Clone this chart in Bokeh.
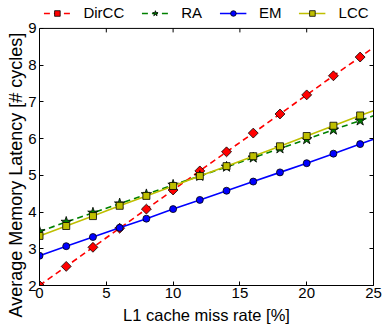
import numpy as np
from bokeh.plotting import figure
from bokeh.models import (LinearAxis, FixedTicker, Range1d, Legend, LegendItem,
                          CustomJSTickFormatter, Title, Span)
from bokeh.embed import file_html
from bokeh.resources import INLINE

# ---- data ----
miss_rate = [0, 2, 4, 6, 8, 10, 12, 14, 16, 18, 20, 22, 24]
line_rate = [0, 2, 4, 6, 8, 10, 12, 14, 16, 18, 20, 22, 24, 25]
dircc = [2.00, 2.52, 3.04, 3.56, 4.08, 4.60, 5.12, 5.64, 6.15, 6.67, 7.19, 7.71, 8.22, 8.48]
ra = [3.47, 3.73, 3.98, 4.23, 4.48, 4.74, 4.98, 5.23, 5.48, 5.73, 5.98, 6.24, 6.49, 6.62]
em = [2.81, 3.07, 3.32, 3.57, 3.82, 4.08, 4.33, 4.58, 4.83, 5.08, 5.33, 5.59, 5.85, 5.98]
lcc = [3.35, 3.62, 3.89, 4.17, 4.44, 4.71, 4.98, 5.25, 5.52, 5.79, 6.07, 6.35, 6.63, 6.76]
x_ticks = [0, 5, 10, 15, 20, 25]
y_ticks = [2, 3, 4, 5, 6, 7, 8, 9]
Y_MIN, Y_MAX = 2, 9

FONT = "Liberation Sans"

# extra headroom above y=9 inside the frame holds the legend
p = figure(width=389, height=326, output_backend="svg", toolbar_location=None,
           x_range=Range1d(0, 25), y_range=Range1d(Y_MIN, 9.651),
           min_border_left=39, min_border_right=16, min_border_top=4,
           min_border_bottom=40)
p.grid.visible = False
p.outline_line_color = None
p.background_fill_color = "white"

def style_axis(ax, labels=True):
    ax.axis_line_color = "black"
    ax.major_tick_in = 4
    ax.major_tick_out = 0
    ax.minor_tick_line_color = None
    ax.major_tick_line_color = "black"
    ax.major_label_text_font = FONT
    ax.major_label_text_font_size = "15px"
    ax.major_label_text_color = "black"
    if not labels:
        ax.formatter = CustomJSTickFormatter(code="return ''")
        ax.major_label_standoff = 0

xa = p.xaxis[0]
xa.ticker = FixedTicker(ticks=x_ticks)
style_axis(xa)
xa.major_label_standoff = 2
xa.axis_label = "L1 cache miss rate [%]"
xa.axis_label_text_font = FONT
xa.axis_label_text_font_size = "16.5px"
xa.axis_label_text_font_style = "normal"
xa.axis_label_text_color = "black"
xa.axis_label_standoff = 5

ya = p.yaxis[0]
ya.ticker = FixedTicker(ticks=y_ticks)
ya.bounds = (Y_MIN, Y_MAX)
style_axis(ya)
ya.major_label_standoff = 3

ylab = Title(text="Average Memory Latency [# cycles]", align="left", offset=-32,
             text_font=FONT, text_font_size="18px", text_font_style="normal",
             text_color="black", standoff=0)
p.add_layout(ylab, "left")

right = LinearAxis(ticker=FixedTicker(ticks=y_ticks), bounds=(Y_MIN, Y_MAX))
style_axis(right, labels=False)
p.add_layout(right, "right")

# top edge of the plot box and its inward ticks
p.add_layout(Span(location=Y_MAX, dimension="width", line_color="black", line_width=1))
p.ray(x=x_ticks, y=Y_MAX, length=4, length_units="screen", angle=-np.pi / 2,
      line_color="black", line_width=1)

lw = 1.6
r1l = p.line(line_rate, dircc, color="#ff0000", line_width=lw, line_dash="6 4")
r1m = p.scatter(miss_rate, dircc[:len(miss_rate)], marker="square", angle=np.pi / 4,
                size=7, fill_color="#ff0000", line_color="black", line_width=0.8)
r2l = p.line(line_rate, ra, color="#008000", line_width=lw, line_dash="6 4")
r2m = p.scatter(miss_rate, ra[:len(miss_rate)], marker="star", size=11,
                fill_color="#007f00", line_color="black", line_width=0.8)
r3l = p.line(line_rate, em, color="#0000ff", line_width=lw)
r3m = p.scatter(miss_rate, em[:len(miss_rate)], marker="circle", size=7,
                fill_color="#0000ff", line_color="black", line_width=0.8)
r4l = p.line(line_rate, lcc, color="#bfbf00", line_width=lw)
r4m = p.scatter(miss_rate, lcc[:len(miss_rate)], marker="square", size=7,
                fill_color="#bfbf00", line_color="black", line_width=0.8)

legend = Legend(items=[
    LegendItem(label="DirCC", renderers=[r1l, r1m]),
    LegendItem(label="RA", renderers=[r2l, r2m]),
    LegendItem(label="EM", renderers=[r3l, r3m]),
    LegendItem(label="LCC", renderers=[r4l, r4m]),
], orientation="horizontal", location="top_center")
legend.glyph_width = 27
legend.glyph_height = 14
legend.label_height = 14
legend.label_standoff = 13
legend.spacing = 17
legend.padding = 0
legend.margin = 0
legend.border_line_color = None
legend.background_fill_alpha = 0
legend.label_text_font = FONT
legend.label_text_font_size = "15px"
legend.label_text_color = "black"
p.add_layout(legend, "center")

open("out.html", "w").write(file_html(p, INLINE))
